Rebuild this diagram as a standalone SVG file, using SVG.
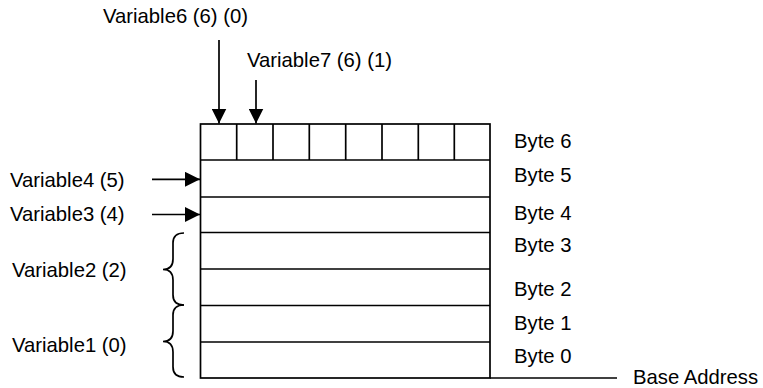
<svg xmlns="http://www.w3.org/2000/svg" width="763" height="388" viewBox="0 0 763 388">
<defs>
<marker id="ah" markerWidth="15" markerHeight="15" viewBox="0 0 15 15" refX="15" refY="7.5" orient="auto" markerUnits="userSpaceOnUse">
<path d="M0,0 L15,7.5 L0,15 Z" fill="#000"/>
</marker>
</defs>
<style>
text{font-family:"Liberation Sans",Arial,sans-serif;font-size:20.3px;fill:#000}
.ln{stroke:#000;stroke-width:1.7;fill:none}
.cell{stroke:#000;stroke-width:1.7;fill:#fff}
</style>
<rect width="763" height="388" fill="#fff"/>
<g id="memory">
<rect class="cell" x="200.5" y="124" width="289.5" height="254"/>
<g id="byte6-cells">
<line class="ln" x1="236.7" y1="124" x2="236.7" y2="160"/>
<line class="ln" x1="273" y1="124" x2="273" y2="160"/>
<line class="ln" x1="309.3" y1="124" x2="309.3" y2="160"/>
<line class="ln" x1="345.7" y1="124" x2="345.7" y2="160"/>
<line class="ln" x1="382" y1="124" x2="382" y2="160"/>
<line class="ln" x1="418.3" y1="124" x2="418.3" y2="160"/>
<line class="ln" x1="454.3" y1="124" x2="454.3" y2="160"/>
</g>
<line class="ln" x1="200.5" y1="160" x2="490" y2="160"/>
<line class="ln" x1="200.5" y1="197" x2="490" y2="197"/>
<line class="ln" x1="200.5" y1="232.5" x2="490" y2="232.5"/>
<line class="ln" x1="200.5" y1="269" x2="490" y2="269"/>
<line class="ln" x1="200.5" y1="305.5" x2="490" y2="305.5"/>
<line class="ln" x1="200.5" y1="342" x2="490" y2="342"/>
</g>
<g id="byte-labels">
<text x="514" y="148">Byte 6</text>
<text x="514" y="182">Byte 5</text>
<text x="514" y="220">Byte 4</text>
<text x="514" y="252">Byte 3</text>
<text x="514" y="296">Byte 2</text>
<text x="514" y="330">Byte 1</text>
<text x="514" y="363">Byte 0</text>
</g>
<g id="base-address">
<line class="ln" x1="490" y1="378" x2="617" y2="378"/>
<text x="633" y="384">Base Address</text>
</g>
<g id="var6"><text x="103" y="23">Variable6 (6) (0)</text></g>
<g id="var7"><text x="247" y="67">Variable7 (6) (1)</text></g>
<g id="var4"><text x="10" y="187">Variable4 (5)</text></g>
<g id="var3"><text x="10" y="221">Variable3 (4)</text></g>
<g id="var2"><text x="12" y="277">Variable2 (2)</text></g>
<g id="var1"><text x="12" y="352">Variable1 (0)</text></g>
<g id="connectors">
<line class="ln" x1="219" y1="40" x2="219" y2="123.5" marker-end="url(#ah)"/>
<line class="ln" x1="256" y1="80" x2="256" y2="123.5" marker-end="url(#ah)"/>
<line class="ln" x1="152" y1="179.3" x2="200" y2="179.3" marker-end="url(#ah)"/>
<line class="ln" x1="152" y1="214.5" x2="200" y2="214.5" marker-end="url(#ah)"/>
<path class="ln" d="M184,233 Q173,233 173,243 L173,259 Q173,269.5 163,269.5 Q173,269.5 173,280 L173,295 Q173,305 184,305"/>
<path class="ln" d="M184,305 Q173,305 173,315 L173,331 Q173,341.5 163,341.5 Q173,341.5 173,352 L173,367 Q173,377 184,377"/>
</g>
</svg>
